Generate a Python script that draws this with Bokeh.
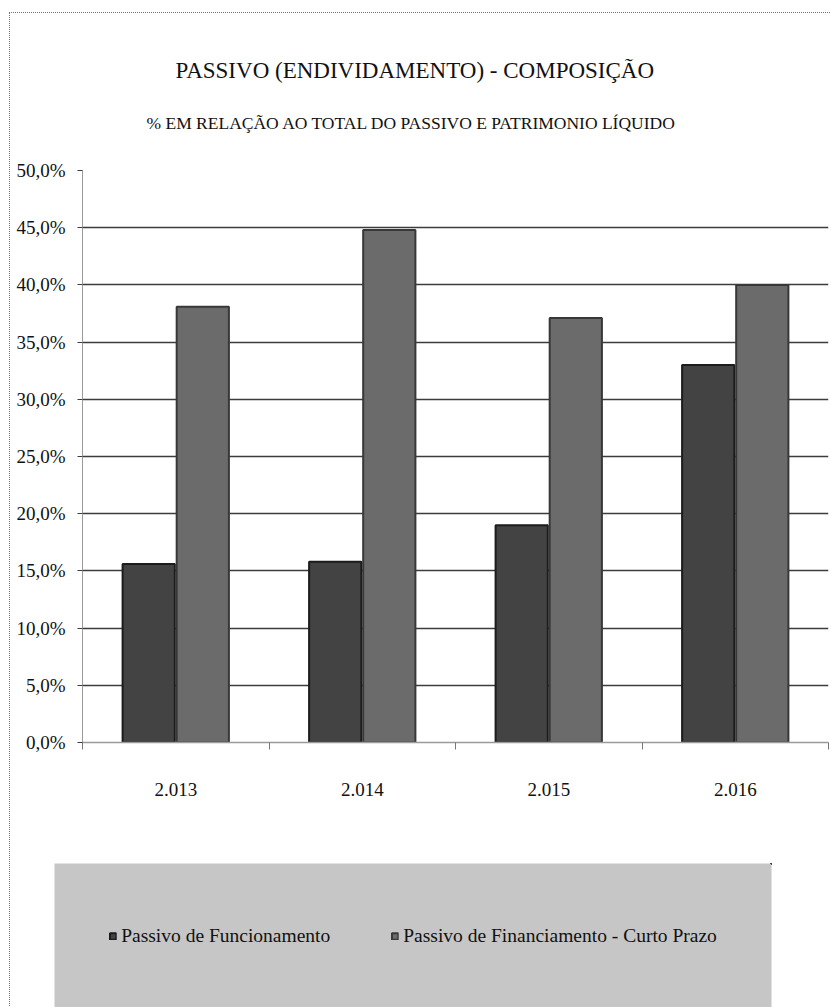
from bokeh.plotting import figure
from bokeh.layouts import column
from bokeh.models import (Range1d, FixedTicker, Legend, LegendItem, Title,
                          ColumnDataSource)
from bokeh.transform import dodge
from bokeh.embed import file_html
from bokeh.resources import INLINE

# ---- data -------------------------------------------------------------
years = ["2.013", "2.014", "2.015", "2.016"]
passivo_funcionamento = [15.6, 15.8, 19.0, 33.0]
passivo_financiamento_cp = [38.1, 44.8, 37.1, 40.0]
series_names = ["Passivo de Funcionamento",
                "Passivo de Financiamento - Curto Prazo"]
y_ticks = [0, 5, 10, 15, 20, 25, 30, 35, 40, 45, 50]
y_tick_labels = ["0,0%", "5,0%", "10,0%", "15,0%", "20,0%", "25,0%",
                 "30,0%", "35,0%", "40,0%", "45,0%", "50,0%"]
title_text = "PASSIVO (ENDIVIDAMENTO) - COMPOSIÇÃO"
subtitle_text = "% EM RELAÇÃO AO TOTAL DO PASSIVO E PATRIMONIO LÍQUIDO"

FONT = "Liberation Serif"
DARK = dict(fill_color="#434343", line_color="#1c1c1c", line_width=2)
MID = dict(fill_color="#6b6b6b", line_color="#383838", line_width=2)

# one slot per year on a numeric axis; year labels sit in the slot centres,
# tick marks sit on the slot boundaries
centres = [i + 0.5 for i in range(len(years))]
source = ColumnDataSource(dict(x=centres, year=years,
                               func=passivo_funcionamento,
                               fin=passivo_financiamento_cp))

# ---- chart --------------------------------------------------------------
p = figure(width=822, height=838,
           x_range=Range1d(0, len(years)), y_range=Range1d(y_ticks[0], y_ticks[-1]),
           output_backend="svg", toolbar_location=None,
           min_border_left=72, min_border_right=4,
           min_border_top=157, min_border_bottom=109,
           title=title_text)
p.frame_align = False
p.outline_line_color = None
p.background_fill_color = "white"
p.border_fill_color = "white"

# titles: main title on top, subtitle just above the plot area
p.title.text_font = FONT
p.title.text_font_size = "23px"
p.title.text_font_style = "normal"
p.title.text_color = "#111111"
p.title.align = "left"
p.title.offset = 93
p.title.standoff = -20
subtitle = Title(text=subtitle_text, align="left", offset=64, standoff=76,
                 text_font=FONT, text_font_size="17.5px",
                 text_font_style="normal", text_color="#111111")
p.add_layout(subtitle, "above")

# bars
r_func = p.vbar(x=dodge("x", -0.145), top="func", width=0.28, source=source, **DARK)
r_fin = p.vbar(x=dodge("x", 0.145), top="fin", width=0.28, source=source, **MID)

# y axis
y_ticker = FixedTicker(ticks=y_ticks, minor_ticks=[])
p.yaxis.ticker = y_ticker
p.yaxis.major_label_overrides = dict(zip(y_ticks, y_tick_labels))
p.yaxis.major_label_text_font = FONT
p.yaxis.major_label_text_font_size = "19px"
p.yaxis.major_label_text_color = "#111111"
p.yaxis.axis_line_color = "#9a9a9a"
p.yaxis.major_tick_line_color = "#3c3c3c"
p.yaxis.major_tick_out = 5
p.yaxis.major_tick_in = 0
p.yaxis.major_label_standoff = 12

p.ygrid.ticker = y_ticker
p.ygrid.grid_line_color = "#3c3c3c"
p.ygrid.grid_line_width = 1.6
p.xgrid.grid_line_color = None

# x axis
p.xaxis.ticker = FixedTicker(ticks=centres,
                             minor_ticks=list(range(len(years) + 1)))
p.xaxis.major_label_overrides = dict(zip(centres, years))
p.xaxis.major_label_text_font = FONT
p.xaxis.major_label_text_font_size = "19px"
p.xaxis.major_label_text_color = "#111111"
p.xaxis.axis_line_color = "#9a9a9a"
p.xaxis.axis_line_width = 1.5
p.xaxis.major_tick_out = 0
p.xaxis.major_tick_in = 0
p.xaxis.minor_tick_out = 7
p.xaxis.minor_tick_in = 0
p.xaxis.minor_tick_line_color = "#777777"
p.xaxis.major_label_standoff = 33

# ---- legend band under the chart ---------------------------------------
# the grey band is this figure's own plot area; the legend sits centred in it.
# The same two bar series are attached here only to supply the legend swatches;
# the band's ranges lie below and left of every bar, so none of them is drawn.
band = figure(width=822, height=157,
              x_range=Range1d(-20, -19), y_range=Range1d(-20, -19),
              x_axis_type=None, y_axis_type=None,
              output_backend="svg", toolbar_location=None,
              min_border_left=44, min_border_right=61,
              min_border_top=12, min_border_bottom=0)
band.frame_align = False
band.outline_line_color = None
band.grid.visible = False
band.background_fill_color = "#c6c6c6"
band.border_fill_color = "white"

k_func = band.vbar(x=dodge("x", -0.145), top="func", width=0.28, source=source, **DARK)
k_fin = band.vbar(x=dodge("x", 0.145), top="fin", width=0.28, source=source, **MID)

legend = Legend(items=[LegendItem(label=series_names[0], renderers=[k_func]),
                       LegendItem(label=series_names[1], renderers=[k_fin])],
                orientation="horizontal", location="center", margin=0,
                padding=0, spacing=60, label_standoff=5,
                glyph_width=8, glyph_height=8,
                background_fill_alpha=0, border_line_color=None,
                label_text_font=FONT, label_text_font_size="19.5px",
                label_text_color="#111111")
band.add_layout(legend)

page = column(p, band, spacing=0)
page.margin = (12, 0, 0, 9)
page.styles = {"border-top": "1px dotted #707070",
               "border-left": "1px dotted #707070"}

open("out.html", "w").write(file_html(page, INLINE))
